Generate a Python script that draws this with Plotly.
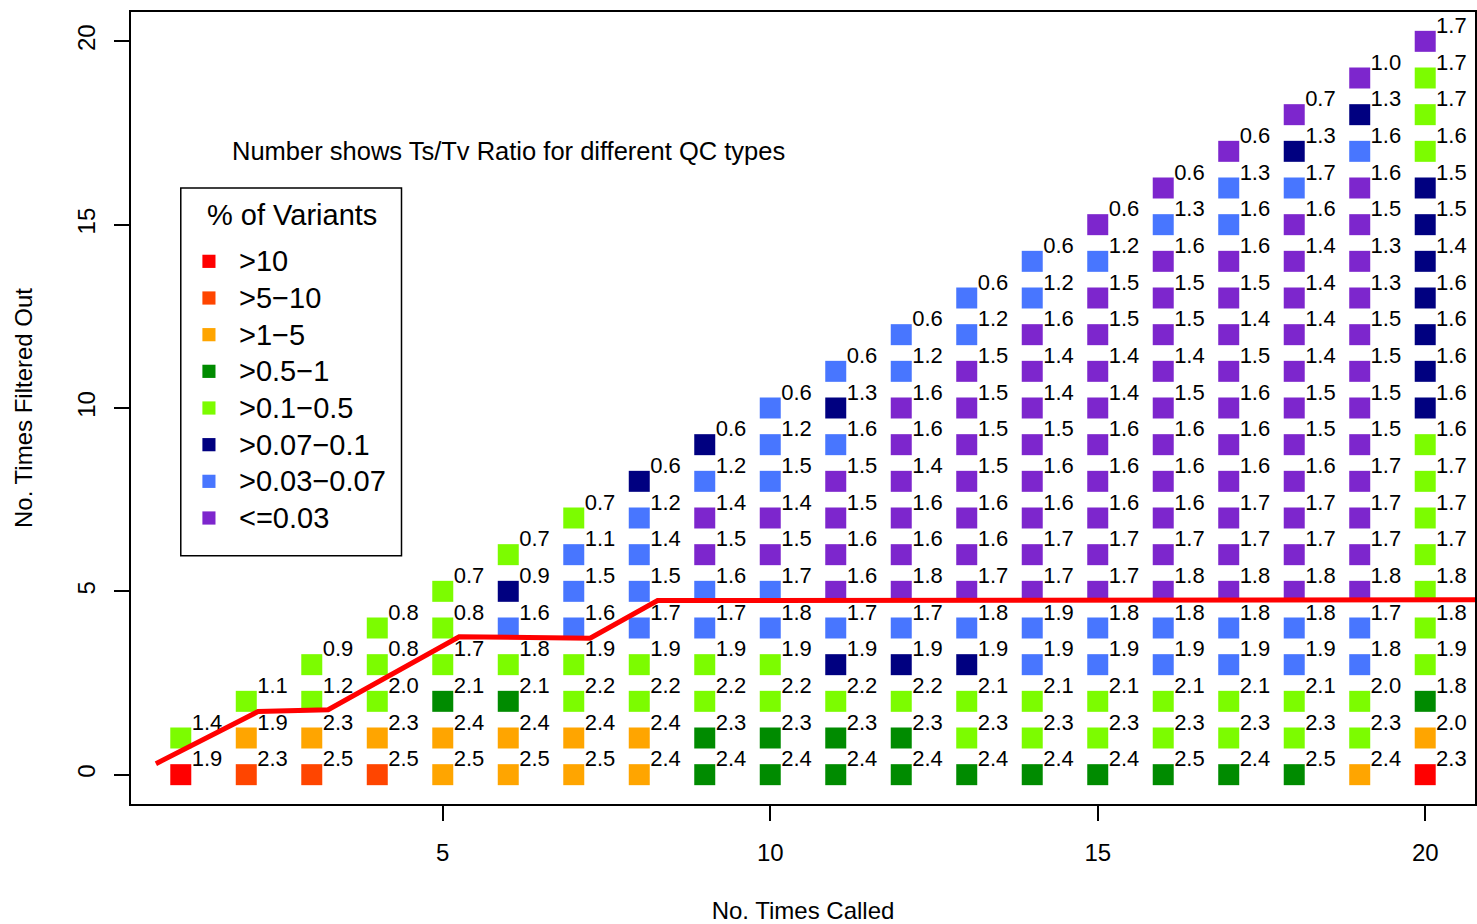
import plotly.graph_objects as go

# ---------------- data ----------------
times_called = [1, 2, 3, 4, 5, 6, 7, 8, 9, 10, 11, 12, 13, 14, 15, 16, 17, 18, 19, 20]

category_keys = ["R", "O", "A", "G", "L", "N", "B", "P"]
category_names = [">10", ">5\u221210", ">1\u22125", ">0.5\u22121", ">0.1\u22120.5",
                  ">0.07\u22120.1", ">0.03\u22120.07", "<=0.03"]
category_colors = ["#FF0000", "#FF4500", "#FFA500", "#008B00", "#7CFC00",
                   "#000080", "#4876FF", "#7D26CD"]

# category of each cell, per column, from 0 times filtered out upward
column_categories = [
    "RL",
    "OAL",
    "OALL",
    "OALLL",
    "AAGLLL",
    "AAGLBNL",
    "AALLBBBL",
    "AALLBBBBN",
    "GGLLBBPPBN",
    "GGLLBBPPBBB",
    "GGLNBPPPPBNB",
    "GGLNBPPPPPPBB",
    "GLLNBPPPPPPPBB",
    "GLLBBPPPPPPPPBB",
    "GLLBBPPPPPPPPPBP",
    "GLLBBPPPPPPPPPPBP",
    "GLLBBPPPPPPPPPPBBP",
    "GLLBBPPPPPPPPPPPBNP",
    "ALLBBPPPPPPPPPPPPBNP",
    "RAGLLLLLLLNNNNNNNLLLP",
]

# Ts/Tv ratio of each cell, per column, from 0 times filtered out upward
tstv_ratio = [
    [1.9, 1.4],
    [2.3, 1.9, 1.1],
    [2.5, 2.3, 1.2, 0.9],
    [2.5, 2.3, 2.0, 0.8, 0.8],
    [2.5, 2.4, 2.1, 1.7, 0.8, 0.7],
    [2.5, 2.4, 2.1, 1.8, 1.6, 0.9, 0.7],
    [2.5, 2.4, 2.2, 1.9, 1.6, 1.5, 1.1, 0.7],
    [2.4, 2.4, 2.2, 1.9, 1.7, 1.5, 1.4, 1.2, 0.6],
    [2.4, 2.3, 2.2, 1.9, 1.7, 1.6, 1.5, 1.4, 1.2, 0.6],
    [2.4, 2.3, 2.2, 1.9, 1.8, 1.7, 1.5, 1.4, 1.5, 1.2, 0.6],
    [2.4, 2.3, 2.2, 1.9, 1.7, 1.6, 1.6, 1.5, 1.5, 1.6, 1.3, 0.6],
    [2.4, 2.3, 2.2, 1.9, 1.7, 1.8, 1.6, 1.6, 1.4, 1.6, 1.6, 1.2, 0.6],
    [2.4, 2.3, 2.1, 1.9, 1.8, 1.7, 1.6, 1.6, 1.5, 1.5, 1.5, 1.5, 1.2, 0.6],
    [2.4, 2.3, 2.1, 1.9, 1.9, 1.7, 1.7, 1.6, 1.6, 1.5, 1.4, 1.4, 1.6, 1.2, 0.6],
    [2.4, 2.3, 2.1, 1.9, 1.8, 1.7, 1.7, 1.6, 1.6, 1.6, 1.4, 1.4, 1.5, 1.5, 1.2, 0.6],
    [2.5, 2.3, 2.1, 1.9, 1.8, 1.8, 1.7, 1.6, 1.6, 1.6, 1.5, 1.4, 1.5, 1.5, 1.6, 1.3, 0.6],
    [2.4, 2.3, 2.1, 1.9, 1.8, 1.8, 1.7, 1.7, 1.6, 1.6, 1.6, 1.5, 1.4, 1.5, 1.6, 1.6, 1.3, 0.6],
    [2.5, 2.3, 2.1, 1.9, 1.8, 1.8, 1.7, 1.7, 1.6, 1.5, 1.5, 1.4, 1.4, 1.4, 1.4, 1.6, 1.7, 1.3, 0.7],
    [2.4, 2.3, 2.0, 1.8, 1.7, 1.8, 1.7, 1.7, 1.7, 1.5, 1.5, 1.5, 1.5, 1.3, 1.3, 1.5, 1.6, 1.6, 1.3, 1.0],
    [2.3, 2.0, 1.8, 1.9, 1.8, 1.8, 1.7, 1.7, 1.7, 1.6, 1.6, 1.6, 1.6, 1.6, 1.4, 1.5, 1.5, 1.6, 1.7, 1.7, 1.7],
]

# red threshold line
line_x = [0.62, 2.18, 3.25, 5.25, 7.25, 8.28, 20.8]
line_y = [0.30, 1.72, 1.77, 3.76, 3.72, 4.75, 4.77]

note_text = "Number shows Ts/Tv Ratio for different QC types"
note_x, note_y = 6, 17

legend_title = "% of Variants"

# ---------------- build ----------------
for n, cats, vals in zip(times_called, column_categories, tstv_ratio):
    assert len(cats) == n + 1 and len(vals) == n + 1, n

FONT = "Liberation Sans, Arial, Helvetica, sans-serif"
LABEL_DX, LABEL_DY = 0.40, 0.38

fig = go.Figure()

for key, name, color in zip(category_keys, category_names, category_colors):
    xs, ys = [], []
    for n, cats in zip(times_called, column_categories):
        for filtered, c in enumerate(cats):
            if c == key:
                xs.append(n)
                ys.append(filtered)
    fig.add_trace(go.Scatter(
        x=xs, y=ys, mode="markers", name=name, showlegend=False,
        marker=dict(symbol="square", size=21, color=color, line=dict(width=0)),
    ))

lx, ly, lt = [], [], []
for n, vals in zip(times_called, tstv_ratio):
    for filtered, v in enumerate(vals):
        lx.append(n + LABEL_DX)
        ly.append(filtered + LABEL_DY)
        lt.append(f"{v:.1f}")
fig.add_trace(go.Scatter(
    x=lx, y=ly, mode="text", text=lt, textposition="middle center",
    textfont=dict(family=FONT, size=22, color="black"),
    showlegend=False, cliponaxis=False, hoverinfo="skip",
))

fig.add_trace(go.Scatter(
    x=line_x, y=line_y, mode="lines", line=dict(color="#FF0000", width=5),
    showlegend=False, hoverinfo="skip",
))

fig.add_annotation(x=note_x, y=note_y, xref="x", yref="y", text=note_text,
                   showarrow=False, font=dict(family=FONT, size=25.5, color="black"))

# ---- legend box (R-style, placed in data coordinates like legend(x, y, ...)) ----
LEG_X0, LEG_X1, LEG_Y0, LEG_Y1 = 1.0, 4.37, 5.97, 16.0
KEY_X, TEXT_X, TITLE_X, TITLE_Y = 1.43, 1.86, 2.70, 15.27
KEY_HX, KEY_HY = 0.10, 0.18
fig.add_shape(type="rect", xref="x", yref="y", x0=LEG_X0, x1=LEG_X1, y0=LEG_Y0, y1=LEG_Y1,
              line=dict(color="black", width=1.5), fillcolor="white", layer="above")
fig.add_annotation(x=TITLE_X, y=TITLE_Y, xref="x", yref="y", text=legend_title,
                   showarrow=False, font=dict(family=FONT, size=29, color="black"))
for i, (name, color) in enumerate(zip(category_names, category_colors)):
    yc = 14 - i
    fig.add_shape(type="rect", xref="x", yref="y",
                  x0=KEY_X - KEY_HX, x1=KEY_X + KEY_HX, y0=yc - KEY_HY, y1=yc + KEY_HY,
                  line=dict(width=0), fillcolor=color, layer="above")
    fig.add_annotation(x=TEXT_X, y=yc, xref="x", yref="y", text=name, xanchor="left",
                       showarrow=False, font=dict(family=FONT, size=29, color="black"))

axis_common = dict(
    showline=True, linewidth=2, linecolor="black", mirror=True,
    ticks="outside", ticklen=15, tickwidth=1.5, tickcolor="black",
    showgrid=False, zeroline=False, automargin=False,
    tickfont=dict(family=FONT, size=24, color="black"),
)

fig.update_layout(
    width=1477, height=924,
    margin=dict(l=131, r=2, t=12, b=120),
    paper_bgcolor="white", plot_bgcolor="white",
    font=dict(family=FONT, color="black"),
    showlegend=False,
    xaxis=dict(range=[0.24, 20.76], tickvals=[5, 10, 15, 20],
               ticklabelstandoff=11,
               title=dict(text="No. Times Called", font=dict(family=FONT, size=24), standoff=53),
               **axis_common),
    yaxis=dict(range=[-0.8, 20.8], tickvals=[0, 5, 10, 15, 20], tickangle=-90,
               ticklabelstandoff=9,
               title=dict(text="No. Times Filtered Out", font=dict(family=FONT, size=24), standoff=34),
               **axis_common),
)

fig.write_html("out.html", config={"displayModeBar": False},
               post_script="document.body.style.margin='0';")
